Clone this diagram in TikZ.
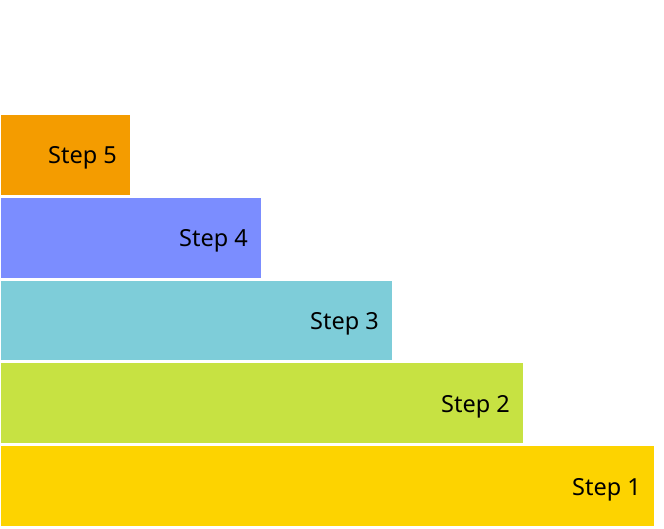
\documentclass[tikz,border=0pt]{standalone}
\usepackage{fontspec}
\setmainfont{Noto Sans}
\definecolor{c5}{HTML}{F49C00}
\definecolor{c4}{HTML}{7B8DFF}
\definecolor{c3}{HTML}{7ECDD9}
\definecolor{c2}{HTML}{C7E242}
\definecolor{c1}{HTML}{FDD300}
\begin{document}
\begin{tikzpicture}[x=1pt,y=-1pt,
  bar/.style={draw=none,inner sep=0pt,outer sep=0pt},
  lbl/.style={anchor=east,inner sep=0pt,font=\fontsize{23.5}{26}\selectfont,text=black}]
\useasboundingbox (0,0) rectangle (664,528);
\fill[white] (0,0) rectangle (664,528);
\fill[c5] (1,115) rectangle (130,195);
\fill[c4] (1,198) rectangle (261,278);
\fill[c3] (1,281) rectangle (392,360);
\fill[c2] (1,363) rectangle (523,443);
\fill[c1] (1,446) rectangle (654,526);
\node[lbl] (s5) at (117,158) {Step 5};
\node[lbl] (s4) at (248,241) {Step 4};
\node[lbl] (s3) at (379,324) {Step 3};
\node[lbl] (s2) at (510,407) {Step 2};
\node[lbl] (s1) at (641,490) {Step 1};
\end{tikzpicture}
\end{document}
